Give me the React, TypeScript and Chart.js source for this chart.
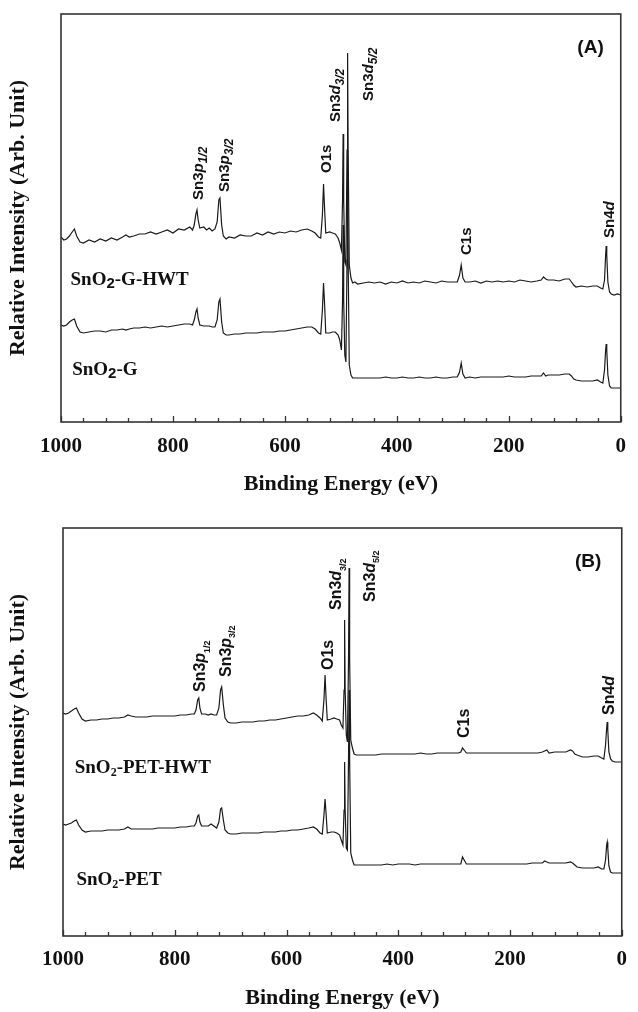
import React, { useEffect, useRef } from "react";
import { Chart, registerables } from "chart.js";
Chart.register(...registerables);

// ---------- DATA ----------
const energy = [
  1000, 995, 990, 985, 980, 976, 972, 966, 960, 950,
  940, 930, 920, 910, 900, 890, 884, 878, 870, 860,
  850, 840, 830, 820, 810, 800, 790, 780, 770, 765,
  762, 759, 757, 755, 752, 745, 740, 735, 730, 725,
  721, 718, 716, 713, 710, 705, 700, 690, 680, 670,
  660, 650, 640, 630, 620, 610, 600, 590, 580, 570,
  560, 552, 546, 540, 536, 533, 531, 529, 527, 520,
  515, 510, 505, 502, 499, 497, 496, 495, 493, 491,
  489, 488, 487, 485, 482, 479, 475, 470, 460, 450,
  440, 430, 420, 410, 400, 390, 380, 370, 360, 350,
  340, 330, 320, 310, 300, 292, 288, 285, 282, 278,
  270, 260, 250, 240, 230, 220, 210, 200, 190, 180,
  170, 160, 150, 142, 138, 134, 130, 120, 110, 100,
  92, 88, 84, 80, 70, 60, 50, 42, 36, 32,
  29, 27, 26, 25, 23, 20, 17, 12, 6, 0,
];

// Panel (A)
const snO2G_HWT = [
  185, 182, 183, 186, 190, 193, 186, 180, 179, 182,
  180, 183, 181, 184, 182, 185, 187, 185, 186, 188,
  188, 190, 188, 190, 192, 189, 193, 192, 195, 192,
  197, 208, 212, 202, 194, 195, 192, 194, 191, 193,
  200, 222, 224, 197, 186, 183, 185, 184, 187, 186,
  186, 189, 187, 190, 188, 190, 189, 191, 190, 192,
  193, 191, 189, 185, 184, 207, 238, 212, 189, 190,
  189, 188, 184, 179, 172, 222, 288, 222, 160, 157,
  272, 369, 272, 157, 144, 139, 140, 138, 139, 140,
  139, 140, 138, 140, 139, 141, 139, 140, 139, 141,
  140, 139, 141, 140, 140, 140, 147, 157, 144, 140,
  140, 141, 139, 141, 140, 141, 140, 141, 140, 142,
  141, 140, 141, 142, 145, 143, 142, 142, 141, 143,
  143, 140, 137, 135, 136, 135, 136, 136, 134, 133,
  142, 167, 176, 167, 140, 130, 128, 127, 128, 127,
];
const snO2G = [
  97, 96, 97, 100, 102, 103, 96, 90, 89, 90,
  91, 91, 90, 92, 92, 93, 92, 93, 94, 94,
  95, 94, 95, 96, 95, 96, 97, 98, 98, 97,
  102, 110, 113, 104, 97, 96, 96, 96, 95, 95,
  102, 120, 123, 100, 89, 87, 87, 88, 88, 89,
  89, 89, 90, 90, 90, 91, 91, 92, 93, 94,
  95, 95, 93, 89, 88, 112, 139, 117, 89, 89,
  90, 90, 87, 82, 72, 122, 197, 122, 67, 60,
  162, 272, 162, 57, 47, 44, 44, 44, 44, 44,
  44, 44, 45, 44, 44, 45, 44, 44, 45, 44,
  44, 45, 44, 44, 45, 45, 50, 59, 48, 44,
  45, 44, 45, 45, 45, 45, 45, 46, 45, 45,
  45, 46, 46, 46, 49, 46, 47, 47, 47, 48,
  48, 46, 43, 42, 41, 41, 41, 42, 40, 39,
  52, 72, 78, 72, 47, 36, 34, 34, 34, 34,
];

// Panel (B)
const snO2PET_HWT = [
  223, 222, 223, 225, 227, 228, 223, 217, 215, 216,
  216, 217, 217, 218, 218, 219, 221, 220, 219, 219,
  219, 220, 220, 220, 220, 220, 221, 221, 222, 222,
  226, 236, 238, 228, 222, 222, 221, 222, 221, 221,
  228, 246, 249, 231, 218, 214, 213, 213, 214, 214,
  214, 215, 215, 216, 216, 217, 218, 219, 220, 220,
  221, 223, 221, 218, 215, 236, 261, 236, 216, 217,
  218, 217, 216, 211, 208, 246, 316, 246, 201, 194,
  276, 368, 276, 196, 188, 182, 181, 181, 181, 181,
  181, 182, 182, 182, 182, 182, 182, 182, 183, 182,
  182, 183, 183, 183, 183, 183, 184, 188, 186, 183,
  183, 183, 183, 183, 183, 183, 183, 183, 183, 183,
  183, 183, 183, 184, 185, 186, 183, 184, 184, 184,
  186, 185, 182, 181, 179, 179, 180, 180, 178, 177,
  191, 208, 214, 206, 184, 177, 175, 174, 174, 174,
];
const snO2PET = [
  112, 111, 112, 113, 115, 116, 111, 106, 104, 105,
  105, 105, 106, 106, 106, 107, 109, 107, 107, 107,
  107, 107, 108, 108, 108, 108, 109, 109, 110, 110,
  113, 120, 121, 114, 110, 110, 110, 112, 110, 108,
  114, 127, 128, 116, 106, 103, 102, 102, 103, 103,
  103, 103, 104, 104, 104, 105, 105, 106, 106, 107,
  108, 109, 107, 103, 102, 121, 137, 121, 103, 104,
  104, 103, 101, 96, 91, 126, 174, 126, 88, 86,
  176, 246, 176, 83, 76, 71, 71, 71, 71, 71,
  71, 71, 72, 71, 72, 72, 72, 71, 72, 72,
  72, 72, 72, 72, 72, 72, 72, 79, 76, 72,
  72, 72, 72, 72, 72, 72, 72, 72, 72, 72,
  72, 73, 73, 73, 75, 74, 73, 73, 73, 73,
  74, 73, 71, 69, 68, 68, 68, 69, 67, 67,
  76, 91, 94, 88, 70, 64, 63, 63, 63, 63,
];

const tickValues = [1000, 800, 600, 400, 200, 0];
const tickLabels = ["1000", "800", "600", "400", "200", "0"];
const xTitle = "Binding Energy (eV)";
const yTitle = "Relative Intensity (Arb. Unit)";

// ---------- ANNOTATIONS ----------
type Seg = { t: string; s?: "n" | "i" | "sub" | "subi" };
type PeakLabel = { e: number; v: number; segs: Seg[] };
type CurveLabel = { e: number; v: number; pre: string; sub: string; post: string };

const sn3p = (a: string): Seg[] => [{ t: "Sn3" }, { t: "p", s: "i" }, { t: a, s: "subi" }];
const sn3d = (a: string): Seg[] => [{ t: "Sn3" }, { t: "d", s: "i" }, { t: a, s: "subi" }];

const peaksA: PeakLabel[] = [
  { e: 756, v: 222, segs: sn3p("1/2") },
  { e: 709, v: 230, segs: sn3p("3/2") },
  { e: 527, v: 249, segs: [{ t: "O1s" }] },
  { e: 512, v: 300, segs: sn3d("3/2") },
  { e: 453, v: 321, segs: sn3d("5/2") },
  { e: 278, v: 167, segs: [{ t: "C1s" }] },
  { e: 22, v: 184, segs: [{ t: "Sn4" }, { t: "d", s: "i" }] },
];
const peaksB: PeakLabel[] = [
  { e: 756, v: 244, segs: sn3p("1/2") },
  { e: 710, v: 259, segs: sn3p("3/2") },
  { e: 527, v: 266, segs: [{ t: "O1s" }] },
  { e: 512, v: 326, segs: sn3d("3/2") },
  { e: 452, v: 334, segs: sn3d("5/2") },
  { e: 283, v: 198, segs: [{ t: "C1s" }] },
  { e: 24, v: 221, segs: [{ t: "Sn4" }, { t: "d", s: "i" }] },
];
const curvesA: CurveLabel[] = [
  { e: 983, v: 142, pre: "SnO", sub: "2", post: "-G-HWT" },
  { e: 980, v: 52, pre: "SnO", sub: "2", post: "-G" },
];
const curvesB: CurveLabel[] = [
  { e: 979, v: 168, pre: "SnO", sub: "2", post: "-PET-HWT" },
  { e: 976, v: 56, pre: "SnO", sub: "2", post: "-PET" },
];

type PanelCfg = {
  letter: string;
  letterPos: { e: number; v: number };
  peaks: PeakLabel[];
  curves: CurveLabel[];
  peakSize: number;
  subSize: number;
  subItalic: boolean;
  curveSubFont: string;
  curveSubShift: number;
};

const SANS = "'Liberation Sans', Arial, sans-serif";
const SERIF = "'Liberation Serif', 'Times New Roman', serif";

function makePlugin(cfg: PanelCfg) {
  return {
    id: "panelDecor",
    afterDatasetsDraw(chart: any) {
      const { ctx, chartArea } = chart;
      const x = chart.scales.x;
      const y = chart.scales.y;
      ctx.save();
      // frame
      ctx.strokeStyle = "#333";
      ctx.lineWidth = 1.6;
      ctx.strokeRect(
        chartArea.left,
        chartArea.top,
        chartArea.right - chartArea.left,
        chartArea.bottom - chartArea.top
      );
      // inward ticks on the bottom axis
      ctx.lineWidth = 1.3;
      for (let e = 0; e <= 1000; e += 40) {
        const px = Math.round(x.getPixelForValue(e)) + 0.5;
        const len = e % 200 === 0 ? 6 : 4;
        ctx.beginPath();
        ctx.moveTo(px, chartArea.bottom);
        ctx.lineTo(px, chartArea.bottom - len);
        ctx.stroke();
      }
      ctx.fillStyle = "#111";
      // panel letter
      ctx.font = `bold 19px ${SANS}`;
      ctx.textAlign = "center";
      ctx.textBaseline = "middle";
      ctx.fillText(cfg.letter, x.getPixelForValue(cfg.letterPos.e), y.getPixelForValue(cfg.letterPos.v));
      // peak labels, rotated
      ctx.textAlign = "left";
      ctx.textBaseline = "alphabetic";
      for (const p of cfg.peaks) {
        const px = x.getPixelForValue(p.e);
        const py = y.getPixelForValue(p.v);
        ctx.save();
        ctx.translate(px + cfg.peakSize * 0.36, py);
        ctx.rotate(-Math.PI / 2);
        let cx = 0;
        for (const s of p.segs) {
          const st = s.s || "n";
          const isSub = st === "sub" || st === "subi";
          const ital = st === "i" || (st === "subi" && cfg.subItalic);
          const size = isSub ? cfg.subSize : cfg.peakSize;
          ctx.font = `${ital ? "italic " : ""}bold ${size}px ${SANS}`;
          ctx.fillText(s.t, cx, isSub ? cfg.peakSize * 0.28 : 0);
          cx += ctx.measureText(s.t).width;
        }
        ctx.restore();
      }
      // curve labels
      ctx.textBaseline = "middle";
      for (const c of cfg.curves) {
        let cx = x.getPixelForValue(c.e);
        const cy = y.getPixelForValue(c.v);
        ctx.font = `bold 19px ${SERIF}`;
        ctx.fillText(c.pre, cx, cy);
        cx += ctx.measureText(c.pre).width;
        ctx.font = cfg.curveSubFont;
        ctx.fillText(c.sub, cx, cy + cfg.curveSubShift);
        cx += ctx.measureText(c.sub).width;
        ctx.font = `bold 19px ${SERIF}`;
        ctx.fillText(c.post, cx, cy);
      }
      ctx.restore();
    },
  };
}

function buildOptions(o: {
  padTop: number;
  padRight: number;
  yWidth: number;
  xHeight: number;
  tickPad: number;
  titlePadBottom: number;
}) {
  return {
    responsive: false,
    animation: false as const,
    devicePixelRatio: 1,
    layout: { padding: { top: o.padTop, right: o.padRight, left: 0, bottom: 0 } },
    plugins: { legend: { display: false }, tooltip: { enabled: false } },
    scales: {
      x: {
        type: "linear" as const,
        reverse: true,
        min: 0,
        max: 1000,
        afterBuildTicks: (scale: any) => {
          scale.ticks = tickValues.map((v) => ({ value: v }));
        },
        afterFit: (scale: any) => {
          scale.height = o.xHeight;
        },
        grid: { display: false, drawTicks: false },
        border: { display: false },
        ticks: {
          autoSkip: false,
          maxRotation: 0,
          padding: o.tickPad,
          color: "#111",
          font: { family: SERIF, size: 21, weight: "bold" as const, lineHeight: 1.2 },
          callback: (v: any) => {
            const i = tickValues.indexOf(Number(v));
            return i >= 0 ? tickLabels[i] : "";
          },
        },
        title: {
          display: true,
          text: xTitle,
          color: "#111",
          padding: { top: 0, bottom: o.titlePadBottom },
          font: { family: SERIF, size: 22, weight: "bold" as const, lineHeight: 1.2 },
        },
      },
      y: {
        type: "linear" as const,
        min: 0,
        max: 408,
        afterFit: (scale: any) => {
          scale.width = o.yWidth;
        },
        grid: { display: false, drawTicks: false },
        border: { display: false },
        ticks: { display: false },
        title: {
          display: true,
          text: yTitle,
          color: "#111",
          padding: { top: 5, bottom: 0 },
          font: { family: SERIF, size: 22, weight: "bold" as const, lineHeight: 1.2 },
        },
      },
    },
  };
}

function makeDataset(vals: number[]) {
  return {
    data: energy.map((e, i) => ({ x: e, y: vals[i] })),
    borderColor: "#1a1a1a",
    borderWidth: 1.2,
    pointRadius: 0,
    tension: 0,
    fill: false,
  };
}

function Panel(props: {
  series: number[][];
  cfg: PanelCfg;
  opts: Parameters<typeof buildOptions>[0];
  top: number;
}) {
  const ref = useRef<HTMLCanvasElement | null>(null);
  useEffect(() => {
    if (!ref.current) return;
    const chart = new Chart(ref.current, {
      type: "line",
      data: { datasets: props.series.map(makeDataset) },
      options: buildOptions(props.opts) as any,
      plugins: [makePlugin(props.cfg)],
    });
    return () => chart.destroy();
  }, []);
  return (
    <canvas
      ref={ref}
      width={638}
      height={506}
      style={{ position: "absolute", left: 0, top: props.top, width: 638, height: 506 }}
    />
  );
}

export default function App() {
  const cfgA: PanelCfg = {
    letter: "(A)",
    letterPos: { e: 54, v: 374 },
    peaks: peaksA,
    curves: curvesA,
    peakSize: 15,
    subSize: 12,
    subItalic: true,
    curveSubFont: `bold 15px ${SANS}`,
    curveSubShift: 4,
  };
  const cfgB: PanelCfg = {
    letter: "(B)",
    letterPos: { e: 60, v: 374 },
    peaks: peaksB,
    curves: curvesB,
    peakSize: 16,
    subSize: 9,
    subItalic: false,
    curveSubFont: `bold 12px ${SERIF}`,
    curveSubShift: 5,
  };
  return (
    <div style={{ position: "absolute", left: 0, top: 0, width: 638, height: 1012, background: "#fff" }}>
      <Panel
        series={[snO2G_HWT, snO2G]}
        cfg={cfgA}
        top={0}
        opts={{ padTop: 14, padRight: 8, yWidth: 61, xHeight: 84, tickPad: 12, titlePadBottom: 8 }}
      />
      <Panel
        series={[snO2PET_HWT, snO2PET]}
        cfg={cfgB}
        top={506}
        opts={{ padTop: 22, padRight: 6, yWidth: 63, xHeight: 76, tickPad: 11, titlePadBottom: 0 }}
      />
    </div>
  );
}
